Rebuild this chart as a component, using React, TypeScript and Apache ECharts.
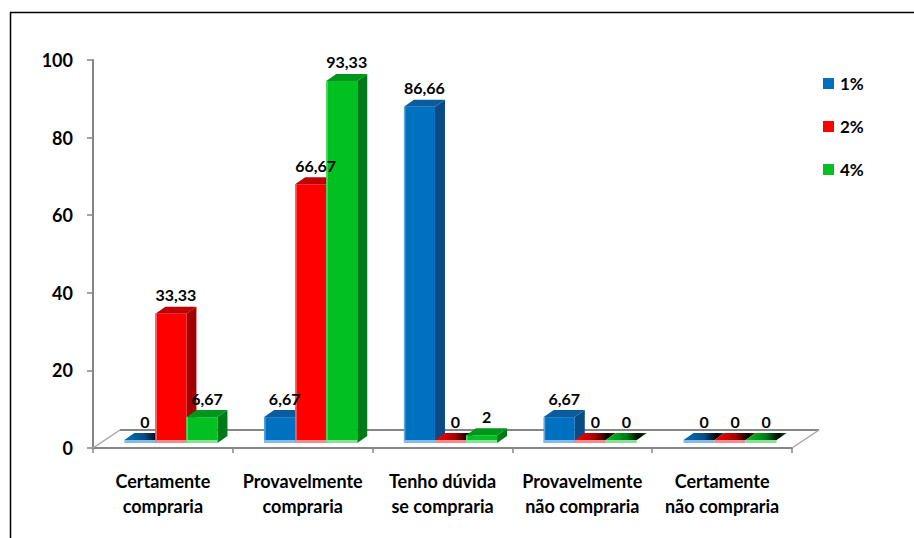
import React, { useEffect, useRef } from "react";
import * as echarts from "echarts";

// Purchase intention per answer, for each concentration
const categories = [
  "Certamente\ncompraria",
  "Provavelmente\ncompraria",
  "Tenho dúvida\nse compraria",
  "Provavelmente\nnão compraria",
  "Certamente\nnão compraria",
];
const seriesNames = ["1%", "2%", "4%"];
const values1 = [0, 6.67, 86.66, 6.67, 0];
const values2 = [33.33, 66.67, 0, 0, 0];
const values4 = [6.67, 93.33, 2, 0, 0];
const yMin = 0;
const yMax = 100;
const yStep = 20;

const seriesValues = [values1, values2, values4];

// face colours of each bar: front, right side, top, left bevel, bottom bevel
const palettes = [
  { front: "#0070C0", side: "#0B4B84", top: "#0B5C9F", edge: "#5FA4DC", foot: "#86BBE6" },
  { front: "#FF0000", side: "#A50000", top: "#C00000", edge: "#FF6A6A", foot: "#F28C8C" },
  { front: "#00C022", side: "#007A18", top: "#00961C", edge: "#5CD86E", foot: "#8AE196" },
];

const FONT = "Lato, 'Open Sans', sans-serif";
const AXIS_GREY = "#868686";

// depth of the floor and of the bars, in pixels
const FLOOR_DX = 27;
const FLOOR_DY = -18;
const BAR_SHIFT_X = 8;
const BAR_SHIFT_Y = -5;
const BAR_DX = 10;
const BAR_DY = -7;
const FOOT_H = 3;

const fmt = (v: number) => String(v).replace(".", ",");

// front-face geometry of bar s at category i with value v
function barBox(api: any, s: number) {
  const i = api.value(0);
  const v = api.value(1);
  const base = api.coord([i, 0]);
  const topPt = api.coord([i, v]);
  const band = api.size([1, 0])[0];
  const w = band * 0.222;
  const x0 = base[0] + BAR_SHIFT_X - 1.5 * w + s * w;
  const yb = base[1] + BAR_SHIFT_Y;
  const yt = v > 0 ? topPt[1] + BAR_SHIFT_Y : yb - FOOT_H;
  return { v, w, x0, yb, yt };
}

function barRenderer(s: number) {
  const pal = palettes[s];
  return (params: any, api: any) => {
    const { v, w, x0, yb, yt } = barBox(api, s);
    const children: any[] = [];
    if (v > 0) {
      children.push({
        type: "polygon",
        shape: {
          points: [
            [x0 + w, yt],
            [x0 + w + BAR_DX, yt + BAR_DY],
            [x0 + w + BAR_DX, yb + BAR_DY],
            [x0 + w, yb],
          ],
        },
        style: { fill: pal.side },
      });
      children.push({
        type: "polygon",
        shape: {
          points: [
            [x0, yt],
            [x0 + BAR_DX, yt + BAR_DY],
            [x0 + w + BAR_DX, yt + BAR_DY],
            [x0 + w, yt],
          ],
        },
        style: { fill: pal.top },
      });
      children.push({
        type: "rect",
        shape: { x: x0, y: yt, width: w, height: yb - yt },
        style: { fill: pal.front },
      });
      children.push({
        type: "rect",
        shape: { x: x0, y: yt, width: 1.5, height: yb - yt },
        style: { fill: pal.edge },
      });
    } else {
      children.push({
        type: "polygon",
        shape: {
          points: [
            [x0, yt],
            [x0 + BAR_DX, yt + BAR_DY],
            [x0 + w + BAR_DX, yt + BAR_DY],
            [x0 + w, yt],
          ],
        },
        style: {
          fill: new echarts.graphic.LinearGradient(0, 0, 1, 0, [
            { offset: 0, color: pal.front },
            { offset: 0.5, color: pal.side },
            { offset: 0.82, color: "#000000" },
            { offset: 1, color: pal.side },
          ]),
        },
      });
    }
    children.push({
      type: "rect",
      shape: { x: x0, y: yb - FOOT_H, width: w, height: FOOT_H },
      style: { fill: pal.foot },
    });
    return { type: "group", children };
  };
}

function labelRenderer(s: number) {
  return (params: any, api: any) => {
    const { v, w, x0, yt } = barBox(api, s);
    return {
      type: "text",
      style: {
        text: fmt(v),
        x: x0 + w / 2 + BAR_DX / 2,
        y: yt + BAR_DY - 4,
        align: "center",
        verticalAlign: "bottom",
        fontFamily: FONT,
        fontWeight: "bold",
        fontSize: 16,
        fill: "#000000",
      },
    };
  };
}

function floorRenderer(params: any) {
  const cs = params.coordSys;
  const left = cs.x;
  const right = cs.x + cs.width;
  const bottom = cs.y + cs.height;
  return {
    type: "group",
    children: [
      {
        type: "line",
        shape: { x1: left + FLOOR_DX, y1: bottom + FLOOR_DY, x2: right + FLOOR_DX, y2: bottom + FLOOR_DY },
        style: { stroke: AXIS_GREY, lineWidth: 2 },
      },
      {
        type: "line",
        shape: { x1: left, y1: bottom, x2: left + FLOOR_DX, y2: bottom + FLOOR_DY },
        style: { stroke: "#A6A6A6", lineWidth: 1.5 },
      },
      {
        type: "line",
        shape: { x1: right, y1: bottom, x2: right + FLOOR_DX, y2: bottom + FLOOR_DY },
        style: { stroke: "#A6A6A6", lineWidth: 1.5 },
      },
    ],
  };
}

export default function App() {
  const ref = useRef<HTMLDivElement>(null);

  useEffect(() => {
    if (!ref.current) return;
    const chart = echarts.init(ref.current, undefined, { renderer: "svg" });
    const option: any = {
      animation: false,
      backgroundColor: "#ffffff",
      textStyle: { fontFamily: FONT },
      grid: { left: 93, right: 122, top: 60, bottom: 90, containLabel: false },
      legend: {
        data: seriesNames,
        orient: "vertical",
        left: 818,
        top: 70,
        icon: "rect",
        itemWidth: 11,
        itemHeight: 11,
        itemGap: 26,
        textStyle: { fontFamily: FONT, fontWeight: "bold", fontSize: 17, color: "#000", padding: [0, 0, 0, 1] },
        selectedMode: false,
      },
      xAxis: {
        type: "category",
        data: categories,
        boundaryGap: true,
        axisLine: { show: true, lineStyle: { color: AXIS_GREY, width: 2 } },
        axisTick: { show: true, alignWithLabel: false, length: 5, lineStyle: { color: AXIS_GREY, width: 1.5 } },
        axisLabel: {
          interval: 0,
          margin: 20,
          lineHeight: 25,
          fontFamily: FONT,
          fontWeight: "bold",
          fontSize: 18,
          color: "#000",
        },
        splitLine: { show: false },
      },
      yAxis: {
        type: "value",
        min: yMin,
        max: yMax,
        interval: yStep,
        axisLine: { show: true, lineStyle: { color: AXIS_GREY, width: 2 } },
        axisTick: { show: true, length: 6, lineStyle: { color: AXIS_GREY, width: 1.5 } },
        axisLabel: {
          margin: 20,
          fontFamily: FONT,
          fontWeight: "bold",
          fontSize: 18,
          color: "#000",
        },
        splitLine: { show: false },
      },
      graphic: [
        {
          type: "rect",
          left: 8,
          top: 10,
          shape: { width: 1000, height: 1000 },
          style: { fill: "none", stroke: "#000000", lineWidth: 1.5 },
          silent: true,
        },
      ],
      series: [
        {
          type: "custom",
          name: "floor",
          z: 1,
          silent: true,
          renderItem: floorRenderer,
          data: [[0, 0]],
          encode: { x: 0, y: 1 },
        },
        ...seriesNames.map((name, s) => ({
          type: "custom",
          name,
          z: 2 + s,
          itemStyle: { color: palettes[s].front },
          renderItem: barRenderer(s),
          data: seriesValues[s].map((v, i) => [i, v]),
          encode: { x: 0, y: 1 },
        })),
        ...seriesNames.map((name, s) => ({
          type: "custom",
          name: name + " labels",
          z: 10,
          silent: true,
          renderItem: labelRenderer(s),
          data: seriesValues[s].map((v, i) => [i, v]),
          encode: { x: 0, y: 1 },
        })),
      ],
    };
    chart.setOption(option);
    return () => chart.dispose();
  }, []);

  return (
    <div style={{ position: "fixed", left: 0, top: 0, width: 914, height: 538, background: "#fff" }}>
      <div ref={ref} style={{ width: 914, height: 538 }} />
    </div>
  );
}
